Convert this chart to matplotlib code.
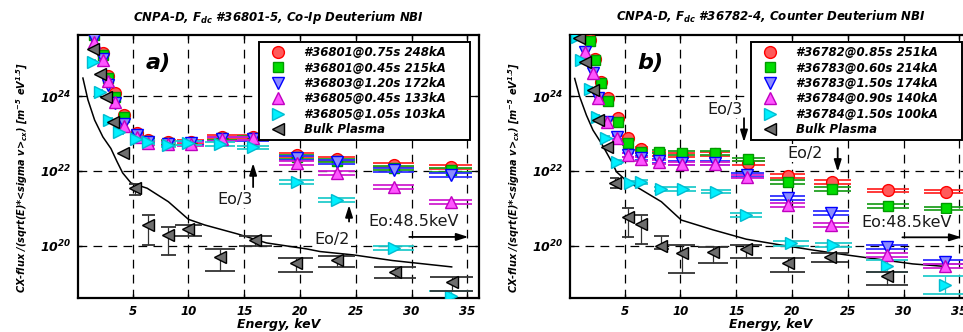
"""
CNPA-D charge-exchange flux spectra, two panels (co-Ip / counter NBI).
Run: python plot.py
"""
import numpy as np
import matplotlib
matplotlib.use("Agg")
import matplotlib.pyplot as plt
from matplotlib.lines import Line2D

plt.rcParams["font.family"] = ["DejaVu Sans"]
plt.rcParams["mathtext.fontset"] = "custom"
plt.rcParams["mathtext.rm"] = "DejaVu Sans:italic:bold"
plt.rcParams["mathtext.it"] = "DejaVu Sans:italic:bold"
plt.rcParams["mathtext.bf"] = "DejaVu Sans:italic:bold"

# ── Data (log10 of flux) ─────────────────────────────────────────────────
# panel a) co-Ip NBI
A_E_FAST  = [1.5, 2.3, 2.8, 3.4, 4.2, 5.4, 6.4, 8.2, 10.2, 13.0, 15.8, 19.7, 23.3, 28.4, 33.5]
A_RED     = [25.7, 25.15, 24.53, 24.08, 23.49, 23.01, 22.83, 22.77, 22.77, 22.90, 22.92, 22.43, 22.32, 22.16, 22.11]
A_GREEN   = [25.62, 25.10, 24.48, 23.97, 23.44, 22.97, 22.80, 22.75, 22.75, 22.87, 22.88, 22.38, 22.28, 22.08, 22.03]
A_BLUE    = [25.52, 24.99, 24.29, 23.81, 23.25, 22.95, 22.78, 22.73, 22.75, 22.85, 22.85, 22.35, 22.24, 22.03, 21.89]
A_MAGENTA = [25.45, 24.95, 24.40, 23.85, 23.20, 22.90, 22.75, 22.72, 22.73, 22.85, 22.87, 22.21, 21.95, 21.57, 21.17]
A_E_CYAN  = [1.45, 2.05, 2.9, 3.8, 5.3, 6.4, 8.2, 10.0, 12.8, 15.8, 19.7, 23.3, 28.4, 33.5]
A_CYAN    = [24.91, 24.10, 23.36, 23.04, 22.85, 22.78, 22.69, 22.74, 22.72, 22.63, 21.71, 21.23, 19.95, 18.66]
A_CYAN_ERR = [0.05, 0.05, 0.05, 0.05, 0.05, 0.05, 0.05, 0.05, 0.05, 0.05, 0.05, 0.05, 0.06, 0.15]
A_E_BULK  = [1.45, 2.05, 2.6, 3.2, 4.1, 5.2, 6.4, 8.2, 10.0, 12.8, 16.0, 19.6, 23.3, 28.5, 33.6]
A_BULK    = [25.25, 24.60, 23.97, 23.31, 22.48, 21.55, 20.56, 20.30, 20.45, 19.71, 20.16, 19.55, 19.63, 19.31, 19.04]
A_BULK_LO = [25.25, 24.60, 23.97, 23.31, 22.48, 21.36, 20.03, 19.76, 20.27, 19.33, 20.00, 19.31, 19.44, 19.15, 18.80]
A_BULK_HI = [25.25, 24.60, 23.97, 23.31, 22.48, 21.65, 20.83, 20.51, 20.56, 19.92, 20.27, 19.69, 19.73, 19.45, 19.17]
A_LINE_E  = [0.54, 0.99, 1.59, 2.33, 3.05, 3.6, 4.1, 4.85, 6.3, 8.2, 10.0, 11.45, 14.4, 17.0, 20.6, 21.8, 24.8, 28.3, 33.6]
A_LINE    = [24.48, 23.90, 23.36, 22.91, 22.60, 22.25, 21.95, 21.68, 21.54, 21.18, 20.71, 20.56, 20.32, 20.08, 19.92, 19.85, 19.76, 19.61, 19.44]
A_LABELS  = ["#36801@0.75s 248kA", "#36801@0.45s 215kA", "#36803@1.20s 172kA",
             "#36805@0.45s 133kA", "#36805@1.05s 103kA", "Bulk Plasma"]

# panel b) counter NBI
B_E_RG    = [1.85, 2.3, 2.9, 3.5, 4.4, 5.3, 6.5, 8.1, 10.1, 13.1, 16.1, 19.6, 23.6, 28.6, 33.8]
B_RED     = [25.50, 24.98, 24.38, 23.95, 23.41, 22.88, 22.59, 22.45, 22.42, 22.45, 22.22, 21.87, 21.71, 21.48, 21.45]
B_GREEN   = [25.47, 24.96, 24.34, 23.87, 23.31, 22.74, 22.52, 22.52, 22.49, 22.49, 22.31, 21.71, 21.51, 21.06, 21.00]
B_E_BM    = [1.4, 2.15, 2.6, 3.4, 4.3, 5.3, 6.5, 8.1, 10.1, 13.1, 16.0, 19.6, 23.5, 28.5, 33.7]
B_BLUE    = [25.18, 24.62, 23.95, 23.31, 22.90, 22.43, 22.35, 22.27, 22.22, 22.22, 21.89, 21.27, 20.87, 19.98, 19.58]
B_MAGENTA = [25.18, 24.62, 23.95, 23.31, 22.88, 22.43, 22.33, 22.25, 22.20, 22.20, 21.85, 21.10, 20.55, 19.76, 19.47]
B_E_CYAN  = [0.7, 1.1, 1.86, 2.48, 3.3, 4.3, 5.45, 6.5, 8.3, 10.2, 13.2, 15.9, 19.9, 23.7, 28.5, 33.7]
B_CYAN    = [25.58, 24.96, 24.20, 23.45, 22.88, 22.25, 21.69, 21.71, 21.52, 21.51, 21.45, 20.83, 20.07, 20.03, 19.47, 18.96]
B_CYAN_ERR = [0.05, 0.05, 0.05, 0.05, 0.05, 0.05, 0.05, 0.05, 0.05, 0.05, 0.05, 0.05, 0.06, 0.06, 0.16, 0.25]
B_E_BULK  = [0.95, 1.4, 2.15, 2.6, 3.4, 4.1, 5.3, 6.5, 8.3, 10.1, 12.9, 15.9, 19.6, 23.4, 28.5]
B_BULK    = [25.55, 24.91, 24.16, 23.36, 22.65, 21.69, 20.78, 20.59, 20.00, 19.80, 19.85, 19.91, 19.54, 19.71, 19.20]
B_BULK_LO = [25.55, 24.91, 24.16, 23.36, 22.65, 21.54, 20.23, 20.05, 19.92, 19.27, 19.54, 19.69, 19.31, 19.56, 18.96]
B_BULK_HI = [25.55, 24.91, 24.16, 23.36, 22.65, 21.80, 21.00, 20.83, 20.27, 20.03, 19.98, 20.03, 19.69, 19.80, 19.31]
B_LINE_E  = [0.52, 0.97, 1.57, 2.16, 2.91, 3.66, 3.92, 4.26, 5.15, 8.29, 10.08, 12.91, 15.9, 18.89, 21.87, 24.87, 27.85, 30.83, 33.83]
B_LINE    = [24.47, 23.98, 23.49, 23.09, 22.74, 22.34, 22.20, 21.98, 21.74, 21.18, 20.69, 20.43, 20.18, 20.03, 19.89, 19.76, 19.64, 19.52, 19.45]
B_LABELS  = ["#36782@0.85s 251kA", "#36783@0.60s 214kA", "#36783@1.50s 174kA",
             "#36784@0.90s 140kA", "#36784@1.50s 100kA", "Bulk Plasma"]

FAST_ERR = 0.05
# energy channel half-widths, used for the wide error-bar caps
CAP_E  = [1.0, 4.0, 5.0, 6.5, 8.2, 10.0, 13.0, 16.0, 19.7, 23.4, 28.5, 33.6]
CAP_HW = [0.2, 0.4, 0.5, 0.6, 0.65, 1.2, 1.35, 1.45, 1.6, 1.65, 1.87, 1.95]

STYLES = [
    dict(marker="o", mfc="#ff5a5a", mec="#ff0000", ms=8.5, cap="#ff2a2a"),
    dict(marker="s", mfc="#00dd00", mec="#009a00", ms=6.5, cap="#22a022"),
    dict(marker="v", mfc="#8c8cff", mec="#0000ff", ms=8.5, cap="#3030ff"),
    dict(marker="^", mfc="#ff55ff", mec="#c000c0", ms=8.5, cap="#d020d0"),
    dict(marker=">", mfc="#00f0ff", mec="#00bcd0", ms=8.5, cap="#22cccc"),
    dict(marker="<", mfc="#6e6e6e", mec="#000000", ms=8.0, cap="#333333"),
]

BI = dict(family="DejaVu Sans", weight="bold", style="italic")


def draw(ax, E, logf, lo, hi, st, z):
    E = np.asarray(E, float)
    f = 10.0 ** np.asarray(logf, float)
    ylo = 10.0 ** np.asarray(lo, float)
    yhi = 10.0 ** np.asarray(hi, float)
    hw = np.interp(E, CAP_E, CAP_HW)
    m = yhi > ylo
    ax.vlines(E[m], ylo[m], yhi[m], color=st["cap"], lw=0.9, zorder=z)
    ax.hlines(ylo[m], E[m] - hw[m], E[m] + hw[m], color=st["cap"], lw=1.3, zorder=z)
    ax.hlines(yhi[m], E[m] - hw[m], E[m] + hw[m], color=st["cap"], lw=1.3, zorder=z)
    ax.plot(E, f, ls="none", marker=st["marker"], ms=st["ms"], mfc=st["mfc"],
            mec=st["mec"], mew=1.0, zorder=z + 0.5)


def fast(ax, E, vals, err, st, z):
    v = np.asarray(vals, float)
    e = np.asarray(err, float)
    draw(ax, E, v, v - e, v + e, st, z)


def setup(ax, title, letter, labels):
    ax.set_yscale("log")
    ax.set_xlim(0.1, 36.05)
    ax.set_ylim(10 ** 18.61, 10 ** 25.63)
    ax.set_xticks([5, 10, 15, 20, 25, 30, 35])
    ax.set_xticklabels(["5", "10", "15", "20", "25", "30", "35"], fontdict=dict(BI, size=8.5))
    ax.set_yticks([1e20, 1e22, 1e24])
    ax.set_yticklabels([r"$10^{20}$", r"$10^{22}$", r"$10^{24}$"], fontsize=9)
    ax.yaxis.set_minor_locator(matplotlib.ticker.NullLocator())
    ax.tick_params(direction="in", length=3, width=1, top=True, right=True, pad=5)
    ax.grid(True, which="major", color="black", lw=0.9, ls=(0, (7, 5)))
    ax.set_axisbelow(True)
    for s in ax.spines.values():
        s.set_linewidth(1.6)
    ax.set_xlabel("Energy, keV", fontdict=dict(BI, size=9))
    ax.xaxis.set_label_coords(0.5, -0.075)
    ax.set_ylabel(r"CX-flux /(sqrt(E)*<sigma v>$_{cx}$) [m$^{-5}$ eV$^{1.5}$]",
                  fontdict=dict(BI, size=7))
    ax.yaxis.set_label_coords(-0.12, 0.46)
    ax.text(0.5, 1.068, title, transform=ax.transAxes, ha="center", va="center",
            fontdict=dict(BI, size=8.5))
    ax.text(0.20, 0.893, letter, transform=ax.transAxes, ha="center", va="center",
            fontdict=dict(BI, size=16))
    handles = [Line2D([], [], ls="none", marker=st["marker"], ms=st["ms"],
                      mfc=st["mfc"], mec=st["mec"], mew=1.0) for st in STYLES]
    leg = ax.legend(handles, labels, loc="upper left",
                    bbox_to_anchor=(0.451, 0.612, 0.527, 0.361), mode="expand",
                    prop=dict(BI, size=8.5), frameon=True, fancybox=False,
                    borderpad=0.35, labelspacing=0.2, handlelength=2.6,
                    handletextpad=0.9, borderaxespad=0)
    leg.get_frame().set_edgecolor("black")
    leg.get_frame().set_linewidth(1.4)
    leg.get_frame().set_alpha(1)
    leg.set_zorder(20)


def label(ax, text, x, logy, ha="center"):
    ax.text(x, 10 ** logy, text, ha=ha, va="center", fontsize=11.5, color="#1a1a1a",
            bbox=dict(facecolor="white", edgecolor="none", pad=1), zorder=8)


def arrow(ax, x0, logy0, x1, logy1):
    ax.annotate("", xy=(x1, 10 ** logy1), xytext=(x0, 10 ** logy0),
                arrowprops=dict(arrowstyle="-|>,head_length=0.7,head_width=0.22",
                                color="black", lw=1.3, shrinkA=0, shrinkB=0),
                zorder=9)


fig = plt.figure(figsize=(9.63, 3.32), dpi=100)
fig.patch.set_facecolor("white")
axa = fig.add_axes([78 / 963, 34 / 332, 401 / 963, 263 / 332])
axb = fig.add_axes([570 / 963, 34 / 332, 401 / 963, 263 / 332])

# ── Panel a ───────────────────────────────────────────────────────────────
axa.plot(A_LINE_E, 10 ** np.asarray(A_LINE), color="black", lw=1.1, zorder=3)
fast(axa, A_E_FAST, A_RED, FAST_ERR, STYLES[0], 4)
fast(axa, A_E_FAST, A_GREEN, FAST_ERR, STYLES[1], 5)
fast(axa, A_E_FAST, A_BLUE, FAST_ERR, STYLES[2], 6)
fast(axa, A_E_FAST, A_MAGENTA, FAST_ERR, STYLES[3], 6.2)
fast(axa, A_E_CYAN, A_CYAN, A_CYAN_ERR, STYLES[4], 6.4)
draw(axa, A_E_BULK, A_BULK, A_BULK_LO, A_BULK_HI, STYLES[5], 7)
setup(axa, r"CNPA-D, F$_{dc}$ #36801-5, Co-Ip Deuterium NBI", "a)", A_LABELS)
label(axa, "Eo/3", 14.2, 21.25)
arrow(axa, 15.8, 21.57, 15.8, 22.21)
label(axa, "Eo/2", 22.9, 20.16)
arrow(axa, 24.4, 20.65, 24.4, 21.09)
label(axa, "Eo:48.5keV", 26.1, 20.65, ha="left")
arrow(axa, 29.8, 20.24, 35.1, 20.24)

# ── Panel b ───────────────────────────────────────────────────────────────
axb.plot(B_LINE_E, 10 ** np.asarray(B_LINE), color="black", lw=1.1, zorder=3)
fast(axb, B_E_RG, B_RED, FAST_ERR, STYLES[0], 4)
fast(axb, B_E_RG, B_GREEN, FAST_ERR, STYLES[1], 5)
fast(axb, B_E_BM, B_BLUE, FAST_ERR, STYLES[2], 6)
fast(axb, B_E_BM, B_MAGENTA, FAST_ERR, STYLES[3], 6.2)
fast(axb, B_E_CYAN, B_CYAN, B_CYAN_ERR, STYLES[4], 6.4)
draw(axb, B_E_BULK, B_BULK, B_BULK_LO, B_BULK_HI, STYLES[5], 7)
setup(axb, r"CNPA-D, F$_{dc}$ #36782-4, Counter Deuterium NBI", "b)", B_LABELS)
label(axb, "Eo/3", 13.96, 23.65)
arrow(axb, 15.7, 23.41, 15.7, 22.77)
label(axb, "Eo/2", 21.2, 22.47)
arrow(axb, 24.1, 22.61, 24.1, 21.98)
label(axb, "Eo:48.5keV", 26.2, 20.62, ha="left")
arrow(axb, 29.9, 20.23, 35.2, 20.23)

fig.savefig("out.png", dpi=100, facecolor="white")
print("Saved: out.png")
